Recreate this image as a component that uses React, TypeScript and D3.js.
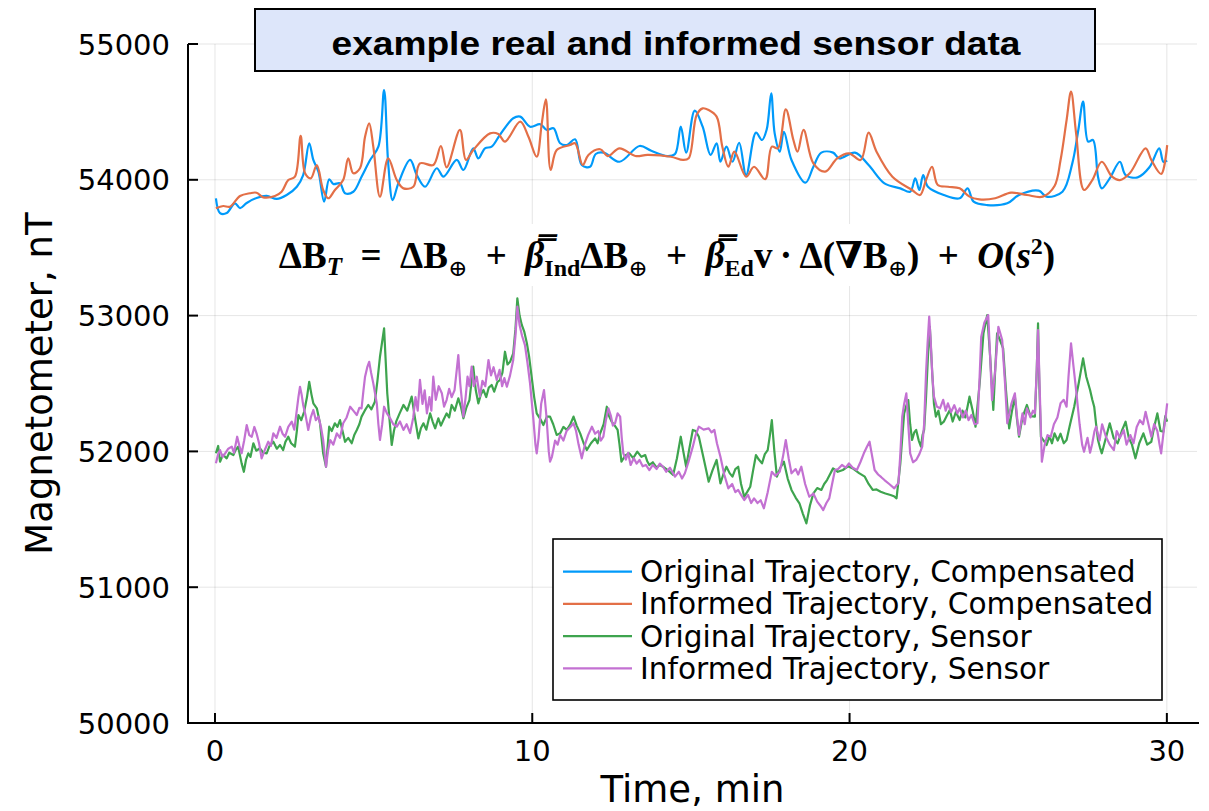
import React from "react";
import * as d3 from "d3";

// [time (min), value (nT)]
const origComp: [number, number][] = [
  [0.03, 53864], [0.16, 53755], [0.37, 53755], [0.63, 53827], [0.79, 53792], [1.0, 53829],
  [1.31, 53866], [1.63, 53881], [1.95, 53859], [2.26, 53888], [2.58, 53949], [2.78, 54035],
  [2.97, 54269], [3.1, 54146], [3.26, 54060], [3.44, 53839], [3.6, 54004], [3.73, 53969],
  [3.94, 53974], [4.1, 53901], [4.36, 53912], [4.62, 54023], [4.89, 54146], [5.15, 54244],
  [5.33, 54661], [5.46, 54121], [5.6, 53851], [5.78, 53974], [6.15, 54146], [6.36, 54035],
  [6.62, 53949], [6.99, 54085], [7.2, 54023], [7.62, 54146], [7.83, 54072], [8.14, 54232],
  [8.3, 54158], [8.51, 54232], [8.72, 54244], [8.98, 54330], [9.4, 54453], [9.62, 54465],
  [9.93, 54391], [10.25, 54409], [10.46, 54367], [10.67, 54379], [10.88, 54269], [11.09, 54256],
  [11.35, 54298], [11.56, 54109], [11.82, 54096], [12.0, 54190], [12.25, 54200], [12.75, 54133],
  [13.38, 54249], [13.75, 54214], [14.25, 54175], [14.5, 54190], [14.68, 54391], [14.85, 54200],
  [15.12, 54509], [15.37, 54391], [15.62, 54183], [15.81, 54269], [15.93, 54133], [16.12, 54244],
  [16.31, 54133], [16.52, 54273], [16.74, 54035], [17.05, 54347], [17.24, 54293], [17.39, 54372],
  [17.53, 54637], [17.64, 54342], [17.8, 54207], [17.93, 54354], [18.17, 54146], [18.61, 53979],
  [18.86, 54096], [19.11, 54200], [19.48, 54200], [19.67, 54158], [20.17, 54200], [20.6, 54109],
  [21.1, 53974], [21.6, 53937], [21.91, 53912], [22.07, 54011], [22.2, 53925], [22.32, 54035],
  [22.47, 53949], [22.97, 53888], [23.47, 53864], [23.72, 53937], [23.91, 53839], [24.34, 53814],
  [24.97, 53827], [25.34, 53888], [25.96, 53920], [26.21, 53876], [26.71, 53912], [27.02, 54121],
  [27.21, 54367], [27.36, 54575], [27.52, 54281], [27.67, 54293], [27.83, 54023], [27.95, 53937],
  [28.2, 54011], [28.52, 54133], [28.7, 54035], [29.08, 54018], [29.45, 54092], [29.76, 54232],
  [29.89, 54133], [30.01, 54141],
];

const infComp: [number, number][] = [
  [0.03, 53790], [0.26, 53807], [0.47, 53802], [0.79, 53881], [1.1, 53901], [1.31, 53905],
  [1.52, 53871], [1.89, 53881], [2.1, 53912], [2.31, 53998], [2.52, 54023], [2.7, 54323],
  [2.84, 54048], [3.02, 54011], [3.21, 54109], [3.41, 53925], [3.57, 53864], [3.78, 53925],
  [4.04, 53998], [4.2, 54158], [4.36, 54048], [4.57, 54085], [4.73, 54317], [4.86, 54416],
  [4.99, 54244], [5.2, 53876], [5.46, 54158], [5.73, 53998], [5.94, 53937], [6.25, 53949],
  [6.46, 54121], [6.88, 54109], [7.12, 54249], [7.3, 54092], [7.72, 54367], [7.91, 54146],
  [8.14, 54219], [8.67, 54342], [8.93, 54337], [9.14, 54281], [9.62, 54428], [9.88, 54317],
  [10.14, 54170], [10.3, 54416], [10.43, 54593], [10.58, 54072], [10.77, 54219], [11.19, 54256],
  [11.35, 54269], [11.59, 54109], [11.77, 54183], [12.14, 54225], [12.38, 54175], [12.75, 54232],
  [13.25, 54175], [13.63, 54183], [14.37, 54170], [14.75, 54146], [14.93, 54158], [15.18, 54477],
  [15.37, 54526], [15.56, 54514], [15.81, 54465], [15.99, 54244], [16.18, 54096], [16.37, 54207],
  [16.74, 54023], [16.99, 54096], [17.34, 54004], [17.55, 54244], [17.74, 54232], [17.99, 54519],
  [18.23, 54293], [18.36, 54207], [18.55, 54367], [18.86, 54121], [19.23, 54060], [19.61, 54158],
  [19.98, 54195], [20.35, 54146], [20.6, 54347], [20.85, 54207], [21.35, 54023], [21.97, 53925],
  [22.22, 53888], [22.41, 53998], [22.6, 54096], [22.78, 53962], [23.1, 53949], [23.47, 53937],
  [23.78, 53876], [24.09, 53856], [24.59, 53864], [25.09, 53905], [25.59, 53888], [26.09, 53876],
  [26.46, 53954], [26.65, 54146], [26.84, 54440], [26.98, 54649], [27.14, 54342], [27.39, 53925],
  [27.65, 53998], [27.95, 54133], [28.27, 54023], [28.52, 53998], [28.83, 54048], [29.33, 54232],
  [29.51, 54146], [29.82, 54043], [30.01, 54256],
];

const origSensor: [number, number][] = [
  [0.03, 51986], [0.1, 52040], [0.16, 51924], [0.25, 51975], [0.37, 51949], [0.45, 51990],
  [0.58, 51973], [0.65, 52010], [0.73, 52035], [0.84, 51912], [0.91, 51850], [0.98, 51940],
  [1.05, 51986], [1.12, 51960], [1.21, 52060], [1.3, 52005], [1.42, 52023], [1.52, 51990],
  [1.63, 51986], [1.72, 52040], [1.84, 52071], [1.95, 52020], [2.05, 52047], [2.15, 52010],
  [2.22, 52070], [2.31, 52108], [2.4, 52060], [2.52, 52035], [2.58, 52150], [2.63, 52268],
  [2.72, 52230], [2.81, 52292], [2.9, 52400], [2.97, 52513], [3.04, 52420], [3.1, 52354],
  [3.21, 52317], [3.31, 52207], [3.41, 51986], [3.5, 51887], [3.6, 52182], [3.68, 52150],
  [3.78, 52207], [3.86, 52180], [3.94, 52231], [4.02, 52150], [4.1, 52071], [4.2, 52100],
  [4.31, 52060], [4.39, 52120], [4.47, 52158], [4.55, 52200], [4.62, 52256], [4.72, 52300],
  [4.83, 52342], [4.93, 52310], [5.04, 52366], [5.12, 52520], [5.2, 52697], [5.33, 52906],
  [5.43, 52428], [5.57, 52047], [5.64, 52150], [5.71, 52219], [5.82, 52280], [5.94, 52342],
  [6.06, 52300], [6.2, 52403], [6.3, 52250], [6.41, 52096], [6.49, 52170], [6.57, 52207],
  [6.66, 52160], [6.78, 52280], [6.86, 52220], [6.94, 52170], [7.04, 52244], [7.12, 52190],
  [7.2, 52231], [7.3, 52280], [7.38, 52250], [7.46, 52342], [7.56, 52300], [7.67, 52391],
  [7.75, 52330], [7.83, 52244], [7.92, 52320], [8.02, 52378], [8.14, 52624], [8.22, 52450],
  [8.3, 52354], [8.38, 52420], [8.46, 52452], [8.55, 52400], [8.63, 52470], [8.72, 52489],
  [8.8, 52440], [8.9, 52510], [8.98, 52526], [9.06, 52580], [9.14, 52734], [9.22, 52640],
  [9.3, 52660], [9.4, 52722], [9.47, 52900], [9.53, 53127], [9.6, 53000], [9.67, 52931],
  [9.75, 52880], [9.83, 52796], [9.9, 52700], [9.98, 52550], [10.06, 52400], [10.14, 52280],
  [10.25, 52240], [10.35, 52194], [10.46, 52256], [10.56, 52256], [10.66, 52200], [10.77, 52121],
  [10.88, 52133], [10.98, 52180], [11.09, 52158], [11.2, 52200], [11.3, 52256], [11.4, 52190],
  [11.51, 52133], [11.62, 52060], [11.72, 52010], [11.85, 52060], [11.98, 52096], [12.06, 52060],
  [12.14, 52133], [12.25, 52200], [12.35, 52329], [12.42, 52260], [12.5, 52219], [12.6, 52190],
  [12.69, 52158], [12.75, 52050], [12.81, 51924], [12.93, 51970], [13.06, 51986], [13.18, 51950],
  [13.31, 51998], [13.44, 51960], [13.56, 51973], [13.62, 51930], [13.69, 51900], [13.8, 51920],
  [13.92, 51880], [14.02, 51900], [14.12, 51887], [14.28, 51860], [14.44, 51826], [14.56, 51950],
  [14.68, 52108], [14.76, 52000], [14.85, 51887], [14.95, 52020], [15.06, 52158], [15.15, 52150],
  [15.25, 52108], [15.4, 51950], [15.56, 51777], [15.68, 51860], [15.81, 51937], [15.93, 51765],
  [16.02, 51830], [16.12, 51887], [16.22, 51840], [16.31, 51814], [16.4, 51870], [16.49, 51887],
  [16.58, 51760], [16.68, 51666], [16.77, 51700], [16.87, 51740], [16.96, 51860], [17.05, 51973],
  [17.14, 51940], [17.24, 51912], [17.33, 51980], [17.42, 52010], [17.49, 52120], [17.55, 52231],
  [17.63, 52000], [17.71, 51814], [17.82, 51880], [17.93, 51924], [18.05, 51800], [18.17, 51716],
  [18.3, 51660], [18.42, 51618], [18.53, 51540], [18.64, 51470], [18.75, 51600], [18.86, 51691],
  [18.98, 51730], [19.11, 51716], [19.2, 51760], [19.29, 51789], [19.38, 51830], [19.48, 51875],
  [19.63, 51850], [19.79, 51863], [19.95, 51890], [20.1, 51875], [20.3, 51840], [20.48, 51814],
  [20.6, 51760], [20.73, 51716], [20.85, 51720], [20.98, 51703], [21.13, 51690], [21.29, 51679],
  [21.4, 51670], [21.48, 51654], [21.54, 51780], [21.6, 51912], [21.66, 52100], [21.72, 52280],
  [21.78, 52330], [21.85, 52378], [21.91, 52200], [21.97, 52084], [22.04, 52140], [22.1, 52158],
  [22.18, 52080], [22.25, 52035], [22.3, 52120], [22.35, 52158], [22.41, 52400], [22.47, 52697],
  [22.53, 52918], [22.6, 52600], [22.66, 52350], [22.72, 52256], [22.8, 52300], [22.88, 52200],
  [22.97, 52219], [23.06, 52260], [23.16, 52305], [23.25, 52220], [23.35, 52290], [23.47, 52231],
  [23.56, 52300], [23.65, 52250], [23.78, 52403], [23.88, 52300], [23.97, 52182], [24.1, 52500],
  [24.22, 52870], [24.34, 53004], [24.43, 52700], [24.53, 52305], [24.59, 52600], [24.65, 52870],
  [24.74, 52820], [24.84, 52759], [24.93, 52450], [25.03, 52170], [25.12, 52300], [25.21, 52403],
  [25.27, 52250], [25.34, 52108], [25.45, 52250], [25.59, 52342], [25.7, 52260], [25.84, 52256],
  [25.9, 52600], [25.94, 52943], [25.98, 52500], [26.03, 52108], [26.12, 52080], [26.21, 52047],
  [26.3, 52110], [26.38, 52060], [26.46, 52133], [26.56, 52080], [26.65, 52130], [26.75, 52060],
  [26.84, 52084], [26.95, 52200], [27.08, 52329], [27.22, 52500], [27.36, 52685], [27.46, 52550],
  [27.58, 52452], [27.65, 52380], [27.71, 52329], [27.77, 52200], [27.83, 52084], [27.89, 52030],
  [27.95, 51986], [28.08, 52100], [28.2, 52207], [28.32, 52100], [28.45, 52060], [28.58, 52150],
  [28.7, 52219], [28.8, 52100], [28.9, 52050], [29.01, 51949], [29.13, 52060], [29.26, 52133],
  [29.38, 52050], [29.51, 52071], [29.6, 52180], [29.7, 52280], [29.8, 52150], [29.89, 52145],
  [29.95, 52260], [30.01, 52219],
];

const infSensor: [number, number][] = [
  [0.03, 51912], [0.1, 51980], [0.16, 52010], [0.24, 51960], [0.32, 51986], [0.42, 52020],
  [0.53, 52035], [0.6, 51990], [0.7, 52108], [0.77, 52040], [0.84, 51986], [0.92, 52080],
  [1.0, 52194], [1.08, 52120], [1.16, 52108], [1.24, 52180], [1.31, 52133], [1.39, 52060],
  [1.47, 51949], [1.57, 52010], [1.68, 52071], [1.76, 52040], [1.84, 52133], [1.94, 52100],
  [2.05, 52182], [2.13, 52130], [2.21, 52108], [2.31, 52180], [2.42, 52219], [2.5, 52160],
  [2.58, 52305], [2.63, 52400], [2.68, 52476], [2.73, 52420], [2.78, 52342], [2.86, 52260],
  [2.94, 52158], [3.02, 52250], [3.1, 52305], [3.18, 52230], [3.26, 52256], [3.34, 52180],
  [3.41, 52084], [3.5, 51887], [3.56, 52000], [3.63, 52084], [3.73, 52050], [3.84, 52133],
  [3.94, 52100], [4.04, 52207], [4.15, 52250], [4.26, 52329], [4.36, 52300], [4.47, 52268],
  [4.55, 52320], [4.62, 52317], [4.68, 52450], [4.73, 52550], [4.8, 52620], [4.86, 52660],
  [4.92, 52580], [4.99, 52501], [5.05, 52420], [5.1, 52354], [5.15, 52200], [5.2, 52084],
  [5.27, 52200], [5.33, 52329], [5.42, 52280], [5.52, 52244], [5.62, 52200], [5.73, 52182],
  [5.83, 52220], [5.94, 52158], [6.04, 52200], [6.15, 52135], [6.25, 52250], [6.32, 52400],
  [6.39, 52300], [6.46, 52526], [6.54, 52350], [6.61, 52450], [6.68, 52280], [6.76, 52400],
  [6.82, 52300], [6.88, 52550], [6.96, 52380], [7.05, 52480], [7.15, 52428], [7.22, 52330],
  [7.3, 52378], [7.38, 52460], [7.46, 52400], [7.55, 52450], [7.62, 52600], [7.67, 52710],
  [7.73, 52500], [7.78, 52380], [7.83, 52256], [7.9, 52400], [7.96, 52550], [8.02, 52480],
  [8.09, 52624], [8.16, 52480], [8.25, 52550], [8.35, 52403], [8.43, 52520], [8.52, 52480],
  [8.62, 52673], [8.7, 52560], [8.78, 52620], [8.88, 52526], [8.97, 52600], [9.05, 52480],
  [9.12, 52540], [9.2, 52476], [9.3, 52560], [9.4, 52673], [9.47, 52850], [9.53, 53066],
  [9.6, 52930], [9.68, 52850], [9.77, 52783], [9.85, 52650], [9.93, 52501], [10.03, 52250],
  [10.1, 52050], [10.14, 51986], [10.2, 52100], [10.28, 52350], [10.37, 52452], [10.45, 52250],
  [10.52, 52000], [10.56, 51924], [10.62, 51960], [10.72, 52080], [10.8, 52050], [10.88, 52121],
  [10.98, 52080], [11.08, 52150], [11.2, 52180], [11.3, 52207], [11.38, 52150], [11.46, 52050],
  [11.56, 51949], [11.66, 52050], [11.76, 52120], [11.88, 52182], [11.98, 52130], [12.08, 52150],
  [12.16, 52080], [12.24, 52108], [12.32, 52230], [12.4, 52317], [12.48, 52260], [12.54, 52190],
  [12.61, 52207], [12.69, 52280], [12.77, 52256], [12.82, 52100], [12.87, 51986], [12.95, 51940],
  [13.02, 51990], [13.1, 51900], [13.2, 51950], [13.29, 51910], [13.38, 51937], [13.48, 51890],
  [13.58, 51900], [13.69, 51863], [13.8, 51900], [13.92, 51870], [14.02, 51910], [14.12, 51887],
  [14.22, 51850], [14.34, 51880], [14.5, 51814], [14.62, 51850], [14.72, 51800], [14.81, 51839],
  [14.92, 51920], [15.06, 52035], [15.15, 52120], [15.25, 52182], [15.4, 52160], [15.56, 52170],
  [15.65, 52140], [15.74, 52158], [15.82, 52060], [15.93, 51961], [16.05, 51830], [16.18, 51728],
  [16.3, 51760], [16.4, 51700], [16.49, 51716], [16.58, 51680], [16.68, 51642], [16.8, 51680],
  [16.9, 51620], [16.99, 51654], [17.1, 51620], [17.2, 51640], [17.3, 51581], [17.42, 51700],
  [17.55, 51850], [17.66, 51820], [17.8, 51850], [17.9, 51960], [17.99, 52084], [18.08, 51950],
  [18.17, 51839], [18.3, 51870], [18.38, 51830], [18.48, 51887], [18.6, 51760], [18.73, 51666],
  [18.86, 51690], [18.98, 51630], [19.08, 51600], [19.17, 51568], [19.27, 51620], [19.36, 51654],
  [19.45, 51760], [19.54, 51863], [19.64, 51870], [19.76, 51900], [19.88, 51880], [19.98, 51912],
  [20.1, 51880], [20.23, 51863], [20.34, 51920], [20.45, 51986], [20.54, 52030], [20.63, 52071],
  [20.7, 51980], [20.79, 51863], [20.9, 51830], [21.0, 51810], [21.1, 51789], [21.25, 51760],
  [21.41, 51728], [21.48, 51750], [21.54, 51765], [21.6, 51980], [21.66, 52256], [21.72, 52350],
  [21.79, 52428], [21.85, 52200], [21.91, 51986], [22.0, 51920], [22.1, 51937], [22.2, 51980],
  [22.29, 52035], [22.35, 52200], [22.41, 52575], [22.46, 52800], [22.51, 52992], [22.56, 52800],
  [22.61, 52550], [22.66, 52403], [22.75, 52330], [22.85, 52317], [22.95, 52380], [23.03, 52300],
  [23.1, 52354], [23.2, 52290], [23.3, 52340], [23.4, 52280], [23.47, 52317], [23.57, 52250],
  [23.66, 52300], [23.75, 52230], [23.84, 52268], [23.94, 52200], [24.03, 52207], [24.09, 52500],
  [24.15, 52845], [24.25, 52950], [24.37, 53004], [24.43, 52700], [24.49, 52378], [24.59, 52600],
  [24.69, 52918], [24.75, 52870], [24.81, 52820], [24.9, 52500], [24.97, 52207], [25.1, 52350],
  [25.21, 52428], [25.28, 52250], [25.34, 52121], [25.45, 52280], [25.52, 52200], [25.59, 52317],
  [25.7, 52250], [25.78, 52300], [25.84, 52281], [25.9, 52600], [25.94, 52894], [26.0, 52400],
  [26.06, 51924], [26.15, 52050], [26.24, 52120], [26.34, 52108], [26.44, 52200], [26.55, 52250],
  [26.65, 52354], [26.75, 52380], [26.84, 52329], [26.9, 52550], [26.98, 52796], [27.06, 52620],
  [27.14, 52452], [27.25, 52200], [27.33, 52050], [27.39, 51998], [27.5, 52100], [27.58, 51990],
  [27.65, 52060], [27.72, 52150], [27.77, 52182], [27.88, 52080], [27.96, 52200], [28.08, 52108],
  [28.2, 52050], [28.33, 52010], [28.42, 52150], [28.52, 52100], [28.64, 52158], [28.73, 52050],
  [28.85, 52120], [28.95, 52060], [29.05, 52180], [29.15, 52230], [29.25, 52200], [29.33, 52292],
  [29.42, 52200], [29.51, 52108], [29.6, 52200], [29.7, 52150], [29.77, 52050], [29.82, 51986],
  [29.9, 52150], [29.96, 52250], [30.01, 52354],
];

const seriesNames = [
  "Original Trajectory, Compensated",
  "Informed Trajectory, Compensated",
  "Original Trajectory, Sensor",
  "Informed Trajectory, Sensor",
];
const seriesColors = ["#009AFA", "#E36F47", "#3EA44E", "#C371D2"];
const xTicks = [0, 10, 20, 30];
const yTicks = [50000, 51000, 52000, 53000, 54000, 55000];
const titleText = "example real and informed sensor data";
const xLabel = "Time, min";
const yLabel = "Magnetometer, nT";

export default function App() {
  const W = 1209;
  const H = 811;
  const x = d3.scaleLinear().domain([-0.85, 30.95]).range([188, 1197]);
  const y = d3.scaleLinear().domain([50000, 55000]).range([723, 44]);
  const [x0, x1] = x.range();
  const [yb, yt] = y.range();

  const smooth = d3
    .line<[number, number]>()
    .x((d) => x(d[0]))
    .y((d) => y(d[1]))
    .curve(d3.curveCatmullRom.alpha(0.5));
  const jag = d3
    .line<[number, number]>()
    .x((d) => x(d[0]))
    .y((d) => y(d[1]));

  const series = [
    { data: origComp, gen: smooth },
    { data: infComp, gen: smooth },
    { data: origSensor, gen: jag },
    { data: infSensor, gen: jag },
  ];

  const sans = "'DejaVu Sans', sans-serif";
  const legX = 553;
  const legY = 539;
  const rowY0 = 571.7;
  const rowStep = 32.2;
  const sp = "\u2002";

  return (
    <div style={{ position: "absolute", left: 0, top: 0 }}>
      <svg width={W} height={H} style={{ display: "block", background: "#fff" }}>
        {/* grid */}
        <g stroke="#000" strokeOpacity={0.1} strokeWidth={1}>
          {xTicks.map((t) => (
            <line key={"gx" + t} x1={x(t)} x2={x(t)} y1={yt} y2={yb} />
          ))}
          {yTicks.map((t) => (
            <line key={"gy" + t} x1={x0} x2={x1} y1={y(t)} y2={y(t)} />
          ))}
        </g>

        {/* equation backdrop */}
        <rect x={262} y={224} width={810} height={62} fill="#fff" />

        {/* data */}
        <g fill="none" strokeWidth={2.2} strokeLinejoin="round">
          {series.map((s, i) => (
            <path key={i} d={s.gen(s.data) || ""} stroke={seriesColors[i]} />
          ))}
        </g>

        {/* axes */}
        <g stroke="#000" strokeWidth={2}>
          <line x1={x0} x2={x0} y1={yt} y2={yb + 1} />
          <line x1={x0 - 1} x2={x1 + 2} y1={yb} y2={yb} />
          {yTicks.map((t) => (
            <line key={"ty" + t} x1={x0} x2={x0 + 10} y1={y(t)} y2={y(t)} />
          ))}
          {xTicks.map((t) => (
            <line key={"tx" + t} x1={x(t)} x2={x(t)} y1={yb} y2={yb - 10} />
          ))}
        </g>
        <g fontFamily={sans} fontSize={29} fill="#000">
          {yTicks.map((t) => (
            <text key={"ly" + t} x={170} y={y(t) + 10.5} textAnchor="end">
              {t}
            </text>
          ))}
          {xTicks.map((t) => (
            <text key={"lx" + t} x={x(t)} y={761} textAnchor="middle">
              {t}
            </text>
          ))}
        </g>
        <text x={(x0 + x1) / 2} y={802} textAnchor="middle" fontFamily={sans} fontSize={37}>
          {xLabel}
        </text>
        <text
          transform={`translate(52, ${(yt + yb) / 2}) rotate(-90)`}
          textAnchor="middle"
          fontFamily={sans}
          fontSize={37}
        >
          {yLabel}
        </text>

        {/* title */}
        <rect x={255} y={9} width={840} height={62} fill="#dde6fa" stroke="#000" strokeWidth={2} />
        <text
          x={676}
          y={55}
          textAnchor="middle"
          fontFamily="'Liberation Sans', Arial, sans-serif"
          fontWeight="bold"
          fontSize={34}
          textLength={689}
          lengthAdjust="spacingAndGlyphs"
        >
          {titleText}
        </text>

        {/* equation */}
        <text
          x={667}
          y={268}
          textAnchor="middle"
          fontFamily="'Liberation Serif', 'DejaVu Serif', serif"
          fontWeight="bold"
          fontSize={37}
        >
          <tspan>ΔB</tspan>
          <tspan fontStyle="italic" fontSize={25} dy={7}>T</tspan>
          <tspan dy={-7}>{sp + "=" + sp + "ΔB"}</tspan>
          <tspan fontSize={23} dy={8} fontWeight="normal">⊕</tspan>
          <tspan dy={-8}>{sp + "+" + sp}</tspan>
          <tspan fontStyle="italic">{"β\u033F"}</tspan>
          <tspan fontSize={24} dy={8}>Ind</tspan>
          <tspan dy={-8}>ΔB</tspan>
          <tspan fontSize={23} dy={8} fontWeight="normal">⊕</tspan>
          <tspan dy={-8}>{sp + "+" + sp}</tspan>
          <tspan fontStyle="italic">{"β\u033F"}</tspan>
          <tspan fontSize={24} dy={8}>Ed</tspan>
          <tspan dy={-8}>{"v\u2009·\u2009Δ(∇B"}</tspan>
          <tspan fontSize={23} dy={8} fontWeight="normal">⊕</tspan>
          <tspan dy={-8}>{")" + sp + "+" + sp}</tspan>
          <tspan fontStyle="italic">O</tspan>
          <tspan>(</tspan>
          <tspan fontStyle="italic">s</tspan>
          <tspan fontSize={24} dy={-14}>2</tspan>
          <tspan dy={14}>)</tspan>
        </text>

        {/* legend */}
        <rect x={legX} y={legY} width={609} height={161} fill="#fff" stroke="#000" strokeWidth={1.6} />
        {seriesNames.map((n, i) => (
          <g key={n}>
            <line
              x1={563}
              x2={632}
              y1={rowY0 + i * rowStep}
              y2={rowY0 + i * rowStep}
              stroke={seriesColors[i]}
              strokeWidth={2.2}
            />
            <text x={640} y={rowY0 + i * rowStep + 10.5} fontFamily={sans} fontSize={29.6}>
              {n}
            </text>
          </g>
        ))}
      </svg>
    </div>
  );
}
